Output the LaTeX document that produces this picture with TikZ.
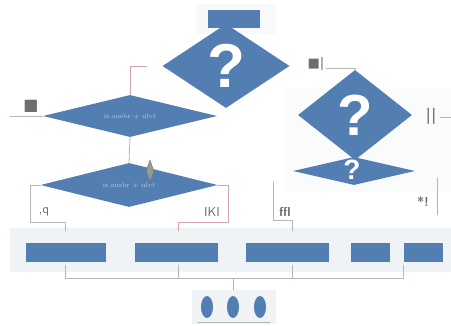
\documentclass[tikz,border=0pt]{standalone}
\usepackage{fontspec}
\newfontfamily\symfont{DejaVu Sans}
\newfontfamily\qfont{Liberation Sans}
\usetikzlibrary{shapes.geometric,arrows.meta}
\definecolor{flowblue}{RGB}{82,126,178}
\definecolor{panel}{RGB}{240,243,245}
\definecolor{wire}{RGB}{178,184,186}
\definecolor{redwire}{RGB}{214,164,168}
\definecolor{glyph}{RGB}{110,110,110}
\tikzset{
  dia/.style={diamond,fill=flowblue,inner sep=0pt},
  blk/.style={rectangle,fill=flowblue,inner sep=0pt},
  qmark/.style={text=white,font=\qfont\bfseries},
  tag/.style={text=glyph,font=\symfont\fontsize{13}{13}\selectfont,inner sep=0pt},
  wire/.style={draw=wire,line width=.8pt},
  redw/.style={draw=redwire,line width=.8pt},
}
\begin{document}
\begin{tikzpicture}[x=1pt,y=-1pt,line join=round,line cap=round]
			\useasboundingbox (0,0) rectangle (451,326);
			% faint panels
			\fill[panel] (10,228) rectangle (451,272);
			\fill[panel!35!white] (285,88) rectangle (451,192);
			\fill[panel!50!white] (196,4) rectangle (276,34);
			\fill[panel] (192,290) rectangle (276,324);
			% diamonds
			\node[dia,minimum width=127pt,minimum height=84pt] (q1) at (226,66) {};
			\node[qmark,font=\qfont\bfseries\fontsize{62}{62}\selectfont] at (q1) {?};
			\node[blk,minimum width=52pt,minimum height=18pt] (top) at (234,19) {};
			\node[dia,minimum width=114pt,minimum height=90pt] (q2) at (355,115) {};
			\node[qmark,font=\qfont\bfseries\fontsize{58}{58}\selectfont] at (q2) {?};
			\node[dia,minimum width=122pt,minimum height=28pt] (q3) at (354,171) {};
			\node[qmark,font=\qfont\bfseries\fontsize{28}{28}\selectfont] at (352,170) {?};
			\node[dia,minimum width=174pt,minimum height=42pt] (d1) at (130,116) {};
			\node[text=flowblue!40!white,font=\scriptsize] at (d1) {is.ausbr + ulvt};
			\node[dia,minimum width=177pt,minimum height=44pt] (d2) at (129,185) {};
			\node[text=flowblue!40!white,font=\scriptsize] at (d2) {is.ausbr + ulvt};
			\node[diamond,fill=glyph!70!white,draw=glyph,minimum width=8pt,minimum height=22pt,inner sep=0pt] (g) at (150,171) {};
			% labels
			\node[tag,font=\symfont\fontsize{16}{16}\selectfont] (t1) at (31,106) {■};
			\node[tag] (t2) at (316,64) {■|};
			\node[tag,font=\symfont\fontsize{16}{16}\selectfont] (t3) at (431,116) {||};
			\node[tag,font=\sffamily\fontsize{13}{13}\selectfont] (t4) at (44,212) {,q};
			\node[tag,font=\sffamily\fontsize{13}{13}\selectfont] (t5) at (212,212) {IKI};
			\node[tag,font=\sffamily\bfseries\fontsize{13}{13}\selectfont] (t6) at (285,212) {ffl};
			\node[tag,font=\sffamily\bfseries\fontsize{13}{13}\selectfont] (t7) at (423,202) {*!};
			% boxes
			\node[blk,minimum width=80pt,minimum height=19pt] (b1) at (66,253) {};
			\node[blk,minimum width=83pt,minimum height=19pt] (b2) at (176,253) {};
			\node[blk,minimum width=83pt,minimum height=19pt] (b3) at (287,253) {};
			\node[blk,minimum width=39pt,minimum height=19pt] (b4) at (370,253) {};
			\node[blk,minimum width=39pt,minimum height=19pt] (b5) at (423,253) {};
			\foreach \x/\n in {207/e1,233/e2,260/e3}
				\node[ellipse,fill=flowblue,minimum width=12pt,minimum height=22pt,inner sep=0pt] (\n) at (\x,307) {};
			% connectors
			\coordinate (a1) at (130,66); \coordinate (a2) at (147,66);
			\draw[redw] (d1.north) -- (a1) -- (a2);
			\coordinate (l1) at (10,116);
			\draw[wire] (d1.west) -- (l1);
			\draw[redw] (d1.south) -- (d2.north);
			\coordinate (c1) at (30,185); \coordinate (c2) at (30,222); \coordinate (c3) at (65,222); \coordinate (c4) at (65,231);
			\draw[wire] (d2.west) -- (c1) -- (c2) -- (c3) -- (c4);
			\coordinate (r1) at (228,185); \coordinate (r2) at (228,222); \coordinate (r3) at (178,222); \coordinate (r4) at (178,231);
			\draw[redw] (d2.east) -- (r1) -- (r2) -- (r3) -- (r4);
			\coordinate (s1) at (326,68); \coordinate (s2) at (355,68);
			\draw[wire] (s1) -- (s2) -- (q2.north);
			\coordinate (u1) at (440,117); \coordinate (u2) at (451,117);
			\draw[wire] (u1) -- (u2);
			\coordinate (f1) at (273,182); \coordinate (f2) at (273,220); \coordinate (f3) at (292,220); \coordinate (f4) at (292,231);
			\draw[wire] (f1) -- (f2) -- (f3) -- (f4);
			\coordinate (v1) at (437,178); \coordinate (v2) at (437,215);
			\draw[redw] (v1) -- (v2);
			% bus
			\coordinate (k1) at (65,278); \coordinate (k2) at (178,278); \coordinate (k3) at (292,278); \coordinate (k4) at (403,278); \coordinate (k0) at (233,278);
			\draw[wire] (65,265) -- (k1) -- (k4) -- (403,265);
			\draw[wire] (k2) -- (178,265) (k3) -- (292,265);
			\draw[wire] (k0) -- (233,290);
			\draw[wire] (198,322) -- (270,322);
\end{tikzpicture}
\end{document}
